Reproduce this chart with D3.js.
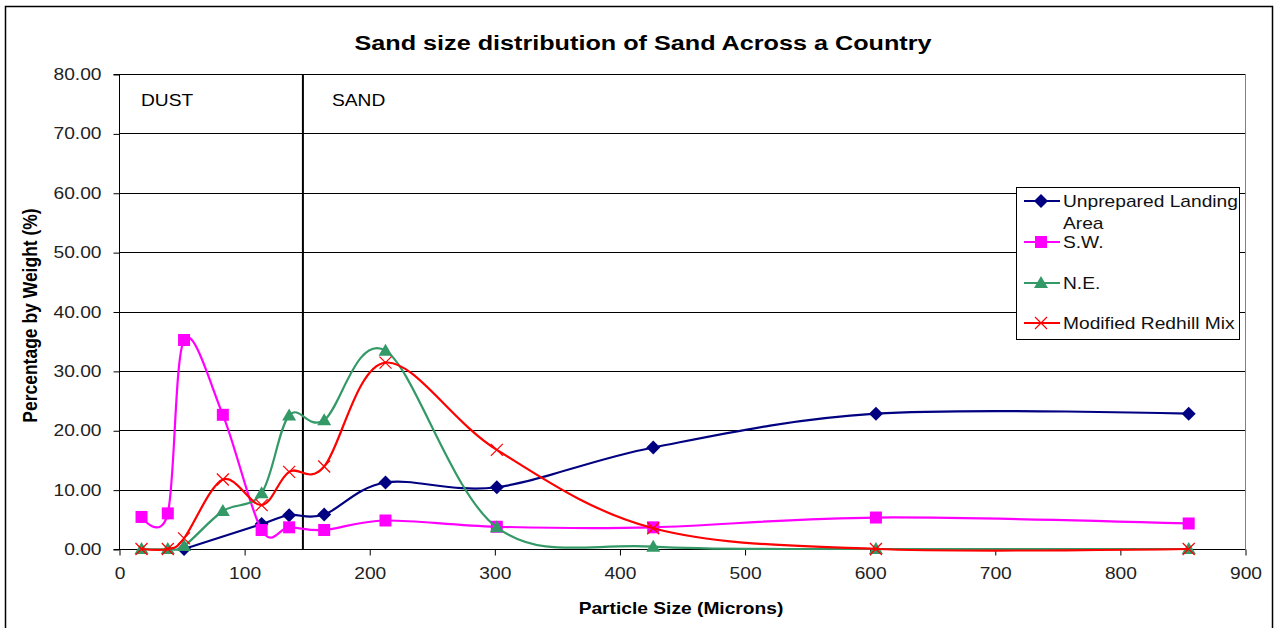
<!DOCTYPE html>
<html>
<head>
<meta charset="utf-8">
<script src="https://cdn.jsdelivr.net/npm/d3@7"></script>
<style>
  html, body { margin: 0; padding: 0; background: #fff; }
  svg { display: block; font-family: "Liberation Sans", Arial, sans-serif; }
</style>
</head>
<body>
<svg id="chart" width="1276" height="628"></svg>
<script>
// Particle sizes (microns) for each sieve fraction
const sizes = [18, 39, 52, 83, 114, 136, 164, 213, 302, 427, 605, 855];

// Percentage by weight retained, one array per sample (null = not measured)
const unpreparedLanding = [null, null, 0, null, 4.2, 5.7, 5.8, 11.2, 10.4, 17.1, 22.8, 22.8];
const southWest        = [5.4, 6.0, 35.2, 22.6, 3.2, 3.65, 3.2, 4.8, 3.75, 3.65, 5.3, 4.3];
const northEast        = [0, 0, 0.5, 6.4, 9.4, 22.5, 21.7, 33.4, 3.65, 0.4, 0, 0];
const redhillMix       = [0, 0, 1.8, 11.7, 7.4, 13.0, 13.9, 31.4, 16.7, 3.5, 0, 0];

const seriesNames = ["Unprepared Landing Area", "S.W.", "N.E.", "Modified Redhill Mix"];
const xTicks = [0, 100, 200, 300, 400, 500, 600, 700, 800, 900];
const yTicks = [0, 10, 20, 30, 40, 50, 60, 70, 80];
const dustSandBoundary = 147;

// Text is drawn slightly widened horizontally
const SX = 1.2;

const svg = d3.select("#chart");
const plot = { left: 119, right: 1245, top: 74, bottom: 549 };

const x = d3.scaleLinear().domain([0, 900]).range([plot.left, plot.right]);
const y = d3.scaleLinear().domain([0, 80]).range([plot.bottom, plot.top]);

function wideText(parent, tx, ty, str, opts = {}) {
  const t = parent.append("text")
    .attr("transform", `translate(${tx},${ty}) scale(${SX},1)`)
    .attr("font-size", opts.size || 16)
    .attr("font-weight", opts.weight || "normal")
    .attr("text-anchor", opts.anchor || "start")
    .attr("fill", opts.fill || "#000")
    .text(str);
  return t;
}

// Outer chart frame
svg.append("rect")
  .attr("x", 5.5).attr("y", 6.5).attr("width", 1267).attr("height", 640)
  .attr("fill", "none").attr("stroke", "#000").attr("stroke-width", 1.5);

// Title
wideText(svg, 643, 50, "Sand size distribution of Sand Across a Country",
  { size: 21, weight: "bold", anchor: "middle" });

// Horizontal gridlines
svg.append("g").selectAll("line").data(yTicks).join("line")
  .attr("x1", plot.left).attr("x2", plot.right)
  .attr("y1", d => Math.round(y(d)) + 0.5).attr("y2", d => Math.round(y(d)) + 0.5)
  .attr("stroke", "#000").attr("stroke-width", 1);

// Right edge of the plot area
svg.append("line")
  .attr("x1", plot.right + 0.5).attr("x2", plot.right + 0.5)
  .attr("y1", plot.top).attr("y2", plot.bottom)
  .attr("stroke", "#808080").attr("stroke-width", 1);

// Y axis
const yAxis = d3.axisLeft(y).tickValues(yTicks).tickFormat(d3.format(".2f")).tickSize(6).tickPadding(10);
const gy = svg.append("g").attr("transform", `translate(${plot.left + 0.5},0.5)`).call(yAxis);
gy.select(".domain").attr("stroke", "#000").attr("d", `M-6,${y(80)}H0V${y(0)}H-6`);
gy.selectAll(".tick line").attr("stroke", "#000");
gy.selectAll(".tick text")
  .attr("font-size", 16).attr("fill", "#222")
  .attr("font-family", "Liberation Sans, Arial, sans-serif")
  .attr("x", -18 / SX)
  .attr("transform", `scale(${SX},1)`);

// X axis
const xAxis = d3.axisBottom(x).tickValues(xTicks).tickFormat(d3.format("d")).tickSize(6).tickPadding(12);
const gx = svg.append("g").attr("transform", `translate(0.5,${Math.round(plot.bottom) + 0.5})`).call(xAxis);
gx.select(".domain").attr("stroke", "#000").attr("d", `M${x(0)},0H${x(900)}`);
gx.selectAll(".tick line").attr("stroke", "#000");
gx.selectAll(".tick text")
  .attr("font-size", 16).attr("fill", "#222")
  .attr("font-family", "Liberation Sans, Arial, sans-serif")
  .attr("transform", `scale(${SX},1)`);

// Axis titles
svg.append("text")
  .attr("transform", `translate(37,${(plot.top + plot.bottom) / 2 + 4}) scale(${SX},1) rotate(-90)`)
  .attr("text-anchor", "middle").attr("font-size", 17.5).attr("font-weight", "bold")
  .text("Percentage by Weight (%)");
wideText(svg, 681, 614, "Particle Size (Microns)", { size: 16, weight: "bold", anchor: "middle" });

// Dust / sand divider
svg.append("line")
  .attr("x1", x(dustSandBoundary)).attr("x2", x(dustSandBoundary))
  .attr("y1", plot.top).attr("y2", plot.bottom)
  .attr("stroke", "#000").attr("stroke-width", 2);
wideText(svg, 141, 106, "DUST", { size: 16 });
wideText(svg, 332, 106, "SAND", { size: 16 });

// Series
const series = [
  { name: seriesNames[0], values: unpreparedLanding, color: "#000080", marker: "diamond" },
  { name: seriesNames[1], values: southWest,        color: "#FF00FF", marker: "square" },
  { name: seriesNames[2], values: northEast,        color: "#339966", marker: "triangle" },
  { name: seriesNames[3], values: redhillMix,       color: "#FF0000", marker: "cross" }
];

const line = d3.line()
  .x(d => x(d.size)).y(d => y(d.value))
  .curve(d3.curveCardinal.tension(0));

function drawMarker(g, type, color) {
  if (type === "diamond") {
    g.append("path").attr("d", "M0,-7L7,0L0,7L-7,0Z").attr("fill", color);
  } else if (type === "square") {
    g.append("rect").attr("x", -6).attr("y", -6).attr("width", 12).attr("height", 12).attr("fill", color);
  } else if (type === "triangle") {
    g.append("path").attr("d", "M0,-7L7,5L-7,5Z").attr("fill", color);
  } else {
    g.append("path").attr("d", "M-6,-6L6,6M6,-6L-6,6").attr("stroke", color).attr("stroke-width", 1.2).attr("fill", "none");
  }
}

series.forEach(s => {
  const pts = sizes.map((sz, i) => ({ size: sz, value: s.values[i] })).filter(d => d.value !== null);
  const g = svg.append("g");
  g.append("path").datum(pts)
    .attr("d", line).attr("fill", "none")
    .attr("stroke", s.color).attr("stroke-width", 2.2);
  g.selectAll("g.m").data(pts).join("g")
    .attr("class", "m")
    .attr("transform", d => `translate(${x(d.size)},${y(d.value)})`)
    .each(function () { drawMarker(d3.select(this), s.marker, s.color); });
});

// Legend
const legend = svg.append("g");
legend.append("rect")
  .attr("x", 1016.5).attr("y", 187.5).attr("width", 223).attr("height", 152)
  .attr("fill", "#fff").attr("stroke", "#000").attr("stroke-width", 1);
const legendRows = [
  { s: series[0], y: 201, lines: ["Unprepared Landing", "Area"] },
  { s: series[1], y: 242, lines: ["S.W."] },
  { s: series[2], y: 283, lines: ["N.E."] },
  { s: series[3], y: 323, lines: ["Modified Redhill Mix"] }
];
legendRows.forEach(r => {
  const g = legend.append("g");
  g.append("line").attr("x1", 1024).attr("x2", 1060).attr("y1", r.y).attr("y2", r.y)
    .attr("stroke", r.s.color).attr("stroke-width", 2.2);
  const m = g.append("g").attr("transform", `translate(1041,${r.y})`);
  drawMarker(m, r.s.marker, r.s.color);
  r.lines.forEach((t, i) => {
    wideText(g, 1063, r.y + 6 + i * 22, t, { size: 16, fill: "#111" });
  });
});
</script>
</body>
</html>
